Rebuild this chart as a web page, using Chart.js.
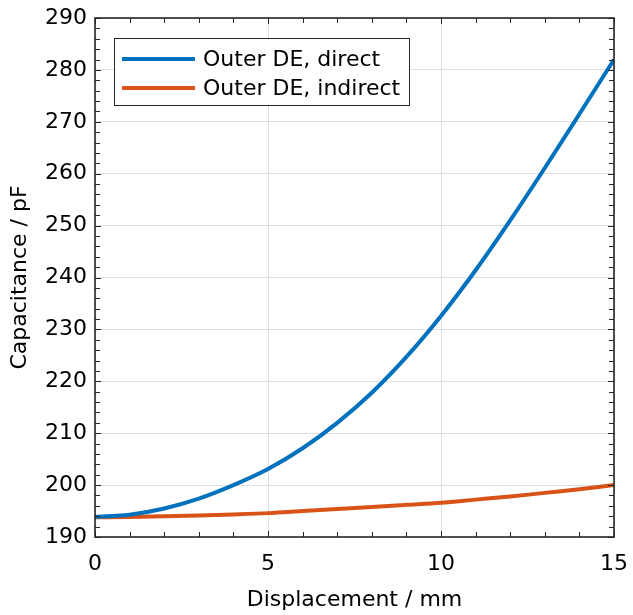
<!DOCTYPE html>
<html>
<head>
<meta charset="utf-8">
<script src="https://cdn.jsdelivr.net/npm/chart.js@4"></script>
<style>
  html, body { margin: 0; padding: 0; background: #fff; }
  #wrap { width: 633px; height: 615px; }
</style>
</head>
<body>
<div id="wrap"><canvas id="graphic-cap"></canvas></div>
<script>
const displacement = [0, 1, 2, 3, 4, 5, 6, 7, 8, 9, 10, 11, 12, 13, 14, 15];
const direct = [193.9, 194.3, 195.5, 197.4, 200.0, 203.1, 207.1, 212.0, 217.8, 224.7, 232.6, 241.4, 251.0, 261.1, 271.5, 282.0];
const indirect = [193.8, 193.85, 194.0, 194.15, 194.35, 194.6, 195.0, 195.4, 195.8, 196.2, 196.6, 197.2, 197.8, 198.5, 199.2, 200.0];
const seriesNames = ['Outer DE, direct', 'Outer DE, indirect'];
const seriesColors = ['#0072BD', '#D95319'];
const xTicks = [0, 5, 10, 15];
const yTicks = [190, 200, 210, 220, 230, 240, 250, 260, 270, 280, 290];

const FONT = 'DejaVu Sans';
const AXIS = '#262626';

const toPoints = ys => displacement.map((x, i) => ({ x: x, y: ys[i] }));

// axes box with inward ticks on all four sides + legend in the upper left
const frame = {
    id: 'frame',
    afterDraw(chart) {
        const ctx = chart.ctx;
        const a = chart.chartArea;
        const xs = chart.scales.x, ys = chart.scales.y;
        ctx.save();
        ctx.strokeStyle = AXIS;
        ctx.lineWidth = 1;
        ctx.beginPath();
        for (let v = 0; v <= 15; v += 1) {
            const px = Math.round(xs.getPixelForValue(v)) + 0.5;
            const len = v % 5 === 0 ? 6 : 5;
            ctx.moveTo(px, a.bottom); ctx.lineTo(px, a.bottom - len);
            ctx.moveTo(px, a.top); ctx.lineTo(px, a.top + len);
        }
        for (let v = 190; v <= 290; v += 2) {
            const py = Math.round(ys.getPixelForValue(v)) + 0.5;
            const len = v % 10 === 0 ? 6 : 5;
            ctx.moveTo(a.left, py); ctx.lineTo(a.left + len, py);
            ctx.moveTo(a.right, py); ctx.lineTo(a.right - len, py);
        }
        ctx.stroke();
        ctx.lineWidth = 1.6;
        ctx.strokeRect(a.left, a.top, a.right - a.left, a.bottom - a.top);

        // legend
        const lx = a.left + 19, ly = a.top + 20, lw = 295, lh = 67;
        ctx.fillStyle = '#fff';
        ctx.fillRect(lx, ly, lw, lh);
        ctx.lineWidth = 1;
        ctx.strokeStyle = AXIS;
        ctx.strokeRect(lx + 0.5, ly + 0.5, lw, lh);
        ctx.font = '22px "' + FONT + '"';
        ctx.textBaseline = 'middle';
        ctx.textAlign = 'left';
        seriesNames.forEach((name, i) => {
            const ry = ly + 21 + i * 29;
            ctx.strokeStyle = seriesColors[i];
            ctx.lineWidth = 4;
            ctx.beginPath();
            ctx.moveTo(lx + 8, ry);
            ctx.lineTo(lx + 81, ry);
            ctx.stroke();
            ctx.fillStyle = '#000';
            ctx.fillText(name, lx + 89, ry + 1);
        });
        ctx.restore();
    }
};

const data = {
    datasets: [{
        label: seriesNames[0],
        data: toPoints(direct),
        borderColor: seriesColors[0],
        backgroundColor: seriesColors[0],
        borderWidth: 4,
        pointRadius: 0,
        cubicInterpolationMode: 'monotone'
    }, {
        label: seriesNames[1],
        data: toPoints(indirect),
        borderColor: seriesColors[1],
        backgroundColor: seriesColors[1],
        borderWidth: 4,
        pointRadius: 0,
        cubicInterpolationMode: 'monotone'
    }]
};

const config = {
    type: 'line',
    data: data,
    options: {
        responsive: true,
        maintainAspectRatio: false,
        animation: false,
        layout: { padding: { top: 18, right: 19, left: 0, bottom: 0 } },
        plugins: {
            legend: { display: false },
            tooltip: { enabled: false }
        },
        scales: {
            x: {
                type: 'linear',
                min: 0,
                max: 15,
                afterBuildTicks: s => { s.ticks = xTicks.map(v => ({ value: v })); },
                afterFit: s => { s.height = 78; s.paddingLeft = 0; s.paddingRight = 0; },
                ticks: { color: '#000', font: { family: FONT, size: 22 }, padding: 14, maxRotation: 0 },
                grid: { color: '#dfdfdf', lineWidth: 1, drawTicks: false },
                border: { display: false },
                title: { display: true, text: 'Displacement / mm', color: '#000', font: { family: FONT, size: 22 }, padding: { top: 0, bottom: 2 } }
            },
            y: {
                min: 190,
                max: 290,
                afterBuildTicks: s => { s.ticks = yTicks.map(v => ({ value: v })); },
                afterFit: s => { s.width = 95; s.paddingTop = 0; s.paddingBottom = 0; },
                ticks: { color: '#000', font: { family: FONT, size: 22 }, padding: 8 },
                grid: { color: '#dfdfdf', lineWidth: 1, drawTicks: false },
                border: { display: false },
                title: { display: true, text: 'Capacitance / pF', color: '#000', font: { family: FONT, size: 22 }, padding: { top: 7, bottom: 0 } }
            }
        }
    },
    plugins: [frame]
};

new Chart(document.getElementById('graphic-cap'), config);
</script>
</body>
</html>
